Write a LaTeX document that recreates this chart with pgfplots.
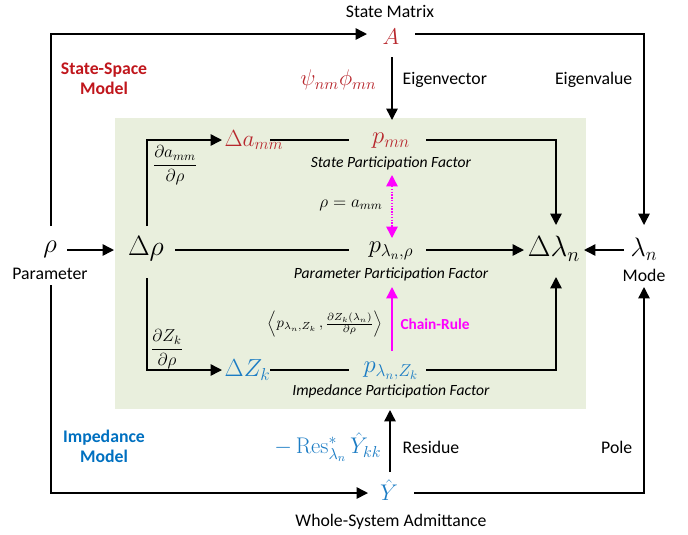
\RequirePackage{fix-cm}
\documentclass[border=0pt]{standalone}
\usepackage{amsmath}
\usepackage[no-math]{fontspec}
\setmainfont{Carlito}
\usepackage{pgfplots}
\pgfplotsset{compat=1.18}
\usetikzlibrary{arrows.meta}
\definecolor{tred}{HTML}{C0161C}
\definecolor{mred}{HTML}{B8282E}
\definecolor{tblue}{HTML}{0070C0}
\definecolor{mblue}{HTML}{1B7CC4}
\definecolor{boxg}{HTML}{E9EFDD}
\definecolor{mag}{HTML}{FF00FF}
\newcommand{\fs}[1]{\fontsize{#1}{#1}\selectfont}
\tikzset{tip/.style={-{Triangle[length=8.5pt,width=8.5pt]}}}
\begin{document}
\begin{tikzpicture}
\begin{axis}[scale only axis, width=516pt, height=399.75pt,
  xmin=0, xmax=688, ymin=0, ymax=533, y dir=reverse,
  hide axis, clip=false,
  every axis plot/.append style={no marks, line width=1.1pt, sharp plot}]
\addplot[draw=none] coordinates {(0,0) (688,533)};
% green box
\addplot[fill=boxg, draw=none] coordinates {(115,118) (586,118) (586,409) (115,409)};
% outer loop
\addplot[black, solid, tip] coordinates {(51,226) (51,34) (367,34)};
\addplot[black, solid, tip] coordinates {(415,34) (644,34) (644,225)};
\addplot[black, solid, tip] coordinates {(392,57) (392,120)};
\addplot[black, solid, tip] coordinates {(51,285) (51,493) (368,493)};
\addplot[black, solid, tip] coordinates {(414,493) (644,493) (644,287)};
\addplot[black, solid, tip] coordinates {(390,472) (390,410)};
% horizontal middle
\addplot[black, solid, tip] coordinates {(67,250) (114,250)};
\addplot[black, solid, tip] coordinates {(624,250) (584,250)};
\addplot[black, solid] coordinates {(175,250) (349,250)};
\addplot[black, solid, tip] coordinates {(426,250) (524,250)};
% upper branch
\addplot[black, solid, tip] coordinates {(147,226) (147,140) (222,140)};
\addplot[black, solid] coordinates {(270,140) (349,140)};
\addplot[black, solid, tip] coordinates {(426,140) (556,140) (556,225)};
% lower branch
\addplot[black, solid, tip] coordinates {(147,278) (147,370) (222,370)};
\addplot[black, solid] coordinates {(270,370) (349,370)};
\addplot[black, solid, tip] coordinates {(426,370) (556,370) (556,277)};
% magenta
\addplot[mag, densely dotted, {Triangle[length=8.5pt,width=8.5pt]}-{Triangle[length=8.5pt,width=8.5pt]}] coordinates {(392,175) (392,238)};
\addplot[mag, solid, tip] coordinates {(392,351) (392,287)};
% texts
\node[font=\fs{13.3}] at (axis cs:390,11) {State Matrix};
\node[text=mred, font=\fs{17}] at (axis cs:391,37) {$A$};
\node[anchor=east, text=mred, font=\fs{17}] at (axis cs:381,80) {$\psi_{nm}\phi_{mn}$};
\node[anchor=west, font=\fs{13.3}] at (axis cs:398,80) {Eigenvector};
\node[anchor=east, font=\fs{13.3}] at (axis cs:637,80) {Eigenvalue};
\node[text=tred, font=\bfseries\fontsize{13.3}{15}\selectfont, align=center] at (axis cs:104,79) {State-Space\\Model};
\node[text=tblue, font=\bfseries\fontsize{13.3}{15}\selectfont, align=center] at (axis cs:104,446) {Impedance\\Model};
\node[anchor=west, text=mred, font=\fs{17.5}] at (axis cs:220,140) {$\Delta a_{mm}$};
\node[font=\fs{13}] at (axis cs:175,165) {$\displaystyle\frac{\partial a_{mm}}{\partial\rho}$};
\node[text=mred, font=\fs{18.5}] at (axis cs:391,141) {$p_{mn}$};
\node[font=\itshape\fs{11.7}] at (axis cs:391,163) {State Participation Factor};
\node[font=\fs{13}] at (axis cs:351,205) {$\rho=a_{mm}$};
\node[font=\fs{20}] at (axis cs:50,249) {$\rho$};
\node[font=\fs{13.3}] at (axis cs:50,274) {Parameter};
\node[font=\fs{21}] at (axis cs:146,249) {$\Delta\rho$};
\node[font=\fs{18.5}] at (axis cs:391,251) {$p_{\lambda_n,\rho}$};
\node[font=\itshape\fs{11.7}] at (axis cs:391,274) {Parameter Participation Factor};
\node[font=\fs{22}] at (axis cs:554,249) {$\Delta\lambda_n$};
\node[font=\fs{20}] at (axis cs:644,249) {$\lambda_n$};
\node[font=\fs{13.3}] at (axis cs:644,275) {Mode};
\node[font=\fs{13}] at (axis cs:167,349) {$\displaystyle\frac{\partial Z_k}{\partial\rho}$};
\node[anchor=west, text=mblue, font=\fs{18.5}] at (axis cs:220,370) {$\Delta Z_k$};
\node[font=\fs{11}] at (axis cs:325,324) {$\left\langle p_{\lambda_n,Z_k}\,,\frac{\partial Z_k(\lambda_n)}{\partial\rho}\right\rangle$};
\node[text=mag, font=\bfseries\fs{11.5}] at (axis cs:435,324) {Chain-Rule};
\node[text=mblue, font=\fs{18.5}] at (axis cs:391,371) {$p_{\lambda_n,Z_k}$};
\node[font=\itshape\fs{11.7}] at (axis cs:391,391) {Impedance Participation Factor};
\node[anchor=east, text=mblue, font=\fs{17}] at (axis cs:386,447) {$-\operatorname{Res}^{*}_{\lambda_n}\hat{Y}_{kk}$};
\node[anchor=west, font=\fs{13.3}] at (axis cs:398,447) {Residue};
\node[anchor=east, font=\fs{13.3}] at (axis cs:637,447) {Pole};
\node[text=mblue, font=\fs{17}] at (axis cs:389,490) {$\hat{Y}$};
\node[font=\fs{13.3}] at (axis cs:391,522) {Whole-System Admittance};
\end{axis}
\end{tikzpicture}
\end{document}
